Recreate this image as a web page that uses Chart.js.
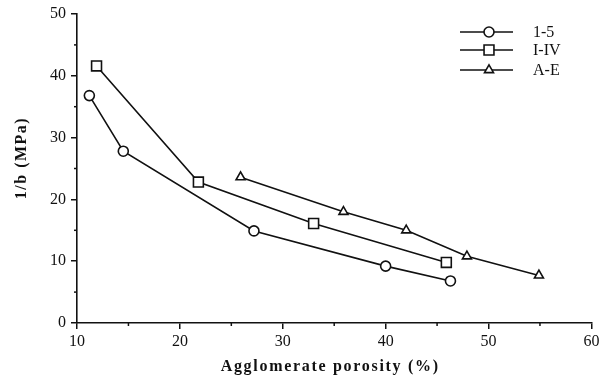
<!DOCTYPE html>
<html><head><meta charset="utf-8">
<script src="https://cdn.jsdelivr.net/npm/chart.js@4/dist/chart.umd.min.js"></script>
<style>html,body{margin:0;padding:0;background:#fff}#wrap{width:600px;height:381px;position:relative}</style>
</head><body><div id="wrap"><canvas id="c" width="600" height="381"></canvas></div>
<script>
// ---- data ----
const seriesNames = ['1-5', 'I-IV', 'A-E'];
const porosity15 = [11.2, 14.5, 27.2, 40.0, 46.3];
const invB15     = [36.8, 27.8, 14.9, 9.2, 6.8];
const porosityIIV = [11.9, 21.8, 33.0, 45.9];
const invBIIV     = [41.6, 22.8, 16.1, 9.8];
const porosityAE = [25.9, 35.9, 42.0, 47.9, 54.9];
const invBAE     = [23.6, 18.0, 15.0, 10.8, 7.7];
const xTickLabels = [10, 20, 30, 40, 50, 60];
const yTickLabels = [0, 10, 20, 30, 40, 50];
const xTitle = 'Agglomerate porosity (%)';
const yTitle = '1/b (MPa)';

// ---- styling ----
const SERIF = "'Liberation Serif', 'DejaVu Serif', serif";
const markers = [
  {pointStyle: 'circle', radius: 5},
  {pointStyle: 'rect', radius: 7},
  {pointStyle: 'triangle', radius: 5.2}
];
function toPts(xs, ys) { return xs.map((x, i) => ({x: x, y: ys[i]})); }
const rawSeries = [[porosity15, invB15], [porosityIIV, invBIIV], [porosityAE, invBAE]];
const datasets = rawSeries.map((s, i) => ({
  label: seriesNames[i],
  data: toPts(s[0], s[1]),
  showLine: true,
  borderColor: '#111',
  borderWidth: 1.6,
  backgroundColor: '#fff',
  pointBackgroundColor: '#fff',
  pointBorderColor: '#111',
  pointBorderWidth: 1.6,
  pointStyle: markers[i].pointStyle,
  pointRadius: markers[i].radius,
  tension: 0
}));

const minorTicks = {
  id: 'minorTicks',
  afterDraw(chart) {
    const ctx = chart.ctx, xs = chart.scales.x, ys = chart.scales.y;
    ctx.save();
    ctx.strokeStyle = '#111'; ctx.lineWidth = 1.5;
    for (let v = 15; v < 60; v += 10) {
      const px = xs.getPixelForValue(v);
      ctx.beginPath(); ctx.moveTo(px, xs.top); ctx.lineTo(px, xs.top + 3); ctx.stroke();
    }
    for (let v = 5; v < 50; v += 10) {
      const py = ys.getPixelForValue(v);
      ctx.beginPath(); ctx.moveTo(ys.right, py); ctx.lineTo(ys.right - 3, py); ctx.stroke();
    }
    ctx.restore();
  }
};

const axisTitles = {
  id: 'axisTitles',
  afterDraw(chart) {
    const ctx = chart.ctx, area = chart.chartArea;
    ctx.save();
    ctx.fillStyle = '#111';
    ctx.font = 'bold 16px ' + SERIF;
    ctx.letterSpacing = '1.7px';
    ctx.textAlign = 'center'; ctx.textBaseline = 'middle';
    ctx.fillText(xTitle, (area.left + area.right) / 2 - 4, 367);
    ctx.translate(22, 158);
    ctx.rotate(-Math.PI / 2);
    ctx.letterSpacing = '1.5px';
    ctx.fillText(yTitle, 0, 0);
    ctx.restore();
  }
};

const customLegend = {
  id: 'customLegend',
  afterDraw(chart) {
    const ctx = chart.ctx;
    const x0 = 460, x1 = 513, xm = 489, tx = 533;
    const rows = [32, 50, 70];
    ctx.save();
    chart.data.datasets.forEach((ds, i) => {
      const y = rows[i];
      ctx.strokeStyle = '#111'; ctx.lineWidth = 1.6;
      ctx.beginPath(); ctx.moveTo(x0, y); ctx.lineTo(x1, y); ctx.stroke();
      ctx.fillStyle = '#fff';
      Chart.helpers.drawPoint(ctx, {pointStyle: ds.pointStyle, radius: ds.pointRadius, borderWidth: 1.6}, xm, y);
      ctx.fillStyle = '#111';
      ctx.font = '16px ' + SERIF;
      ctx.textBaseline = 'middle'; ctx.textAlign = 'left';
      ctx.fillText(ds.label, tx, y + 1);
    });
    ctx.restore();
  }
};

new Chart(document.getElementById('c'), {
  type: 'scatter',
  data: {datasets: datasets},
  plugins: [minorTicks, axisTitles, customLegend],
  options: {
    responsive: false,
    animation: false,
    devicePixelRatio: 1,
    layout: {padding: {left: 0, top: 14, right: 6, bottom: 0}},
    plugins: {legend: {display: false}, tooltip: {enabled: false}},
    scales: {
      x: {
        type: 'linear', min: 10, max: 60,
        afterFit(s) { s.height = 58; s.paddingRight = 0; s.paddingLeft = 0; },
        afterBuildTicks(s) { s.ticks = xTickLabels.map(v => ({value: v})); },
        border: {display: true, color: '#111', width: 1.6},
        grid: {display: true, drawOnChartArea: false, drawTicks: true, tickLength: 6, color: '#111', lineWidth: 1.5},
        ticks: {color: '#111', padding: 3, maxRotation: 0, font: {family: SERIF, size: 16}}
      },
      y: {
        type: 'linear', min: 0, max: 50,
        afterFit(s) { s.width = 77; s.paddingTop = 0; s.paddingBottom = 0; },
        afterBuildTicks(s) { s.ticks = yTickLabels.map(v => ({value: v})); },
        border: {display: true, color: '#111', width: 1.6},
        grid: {display: true, drawOnChartArea: false, drawTicks: true, tickLength: 6, color: '#111', lineWidth: 1.5},
        ticks: {color: '#111', padding: 5, font: {family: SERIF, size: 16}}
      }
    }
  }
});
</script></body></html>
